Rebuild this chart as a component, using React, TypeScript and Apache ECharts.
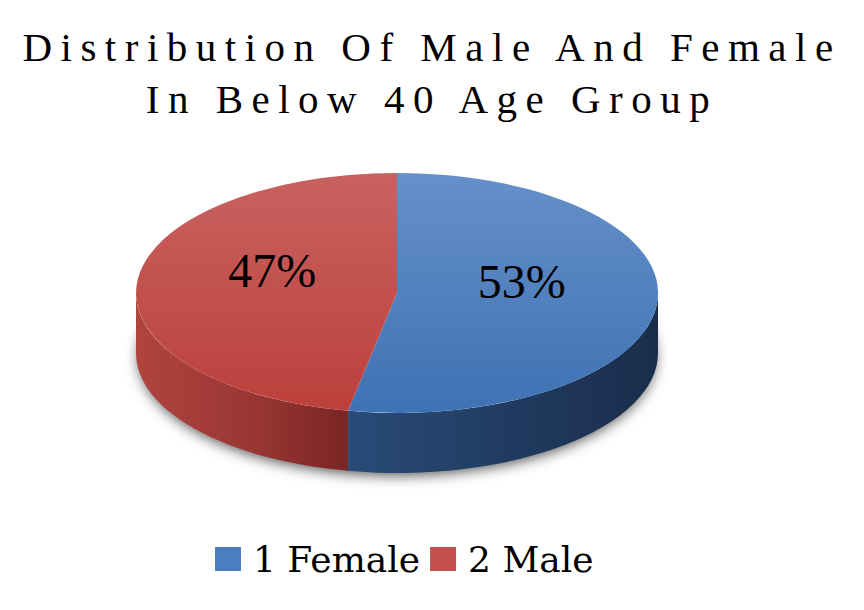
import React, { useEffect, useRef } from 'react';
import * as echarts from 'echarts';

const categories = ['1 Female', '2 Male'];
const shares = [53, 47];
const titleLines = ['Distribution Of Male And Female', 'In Below 40 Age Group'];

const TOP_COLORS = [
  ['#6690c9', '#3e72b4'],
  ['#c8625f', '#bc403c'],
];
const WALL_COLORS = [
  ['#284b78', '#1a2d4b'],
  ['#b0443f', '#7a2624'],
];
const LEGEND_COLORS = ['#4a7ebf', '#c4504c'];

const CX = 397;
const CY = 293;
const RX = 261;
const RY = 120;
const DEPTH = 60;

function pt(t: number, dy = 0): string {
  const x = CX + RX * Math.sin(t);
  const y = CY - RY * Math.cos(t) + dy;
  return `${x.toFixed(2)} ${y.toFixed(2)}`;
}

function renderItem(params: any, api: any) {
  const i = params.seriesIndex;
  const total = shares.reduce((a, b) => a + b, 0);
  const before = shares.slice(0, i).reduce((a, b) => a + b, 0);
  const v = api.value(0);
  const a0 = (before / total) * 2 * Math.PI;
  const a1 = ((before + v) / total) * 2 * Math.PI;
  const children: any[] = [];

  if (i === 0) {
    children.push({
      type: 'ellipse',
      shape: { cx: CX, cy: CY + DEPTH - 2, rx: RX - 3, ry: RY - 2 },
      style: {
        fill: '#ffffff',
        shadowBlur: 14,
        shadowColor: 'rgba(0,0,0,0.7)',
        shadowOffsetY: 6,
      },
    });
  }

  const w0 = Math.max(a0, Math.PI / 2);
  const w1 = Math.min(a1, (3 * Math.PI) / 2);
  if (w1 > w0) {
    const d = `M ${pt(w0)} A ${RX} ${RY} 0 0 1 ${pt(w1)} L ${pt(w1, DEPTH)} A ${RX} ${RY} 0 0 0 ${pt(w0, DEPTH)} Z`;
    const stops =
      i === 0
        ? [
            { offset: 0, color: WALL_COLORS[0][0] },
            { offset: 1, color: WALL_COLORS[0][1] },
          ]
        : [
            { offset: 0, color: WALL_COLORS[1][0] },
            { offset: 0.5, color: '#9c3834' },
            { offset: 1, color: WALL_COLORS[1][1] },
          ];
    children.push({
      type: 'path',
      shape: { pathData: d },
      style: {
        fill: new echarts.graphic.LinearGradient(0, 0, 1, 0, stops),
      },
    });
  }

  const large = a1 - a0 > Math.PI ? 1 : 0;
  const top = `M ${CX} ${CY} L ${pt(a0)} A ${RX} ${RY} 0 ${large} 1 ${pt(a1)} Z`;
  children.push({
    type: 'path',
    shape: { pathData: top },
    style: {
      fill: new echarts.graphic.LinearGradient(0, 0, 0, 1, [
        { offset: 0, color: TOP_COLORS[i][0] },
        { offset: 1, color: TOP_COLORS[i][1] },
      ]),
    },
  });

  const mid = (a0 + a1) / 2;
  const f = 0.48;
  children.push({
    type: 'text',
    style: {
      text: `${Math.round((v / total) * 100)}%`,
      x: CX + RX * f * Math.sin(mid),
      y: CY - RY * f * Math.cos(mid) - 17,
      font: '48px "Liberation Serif"',
      fill: '#000000',
      align: 'center',
      verticalAlign: 'middle',
    },
  });

  return { type: 'group', children };
}

export default function App() {
  const ref = useRef<HTMLDivElement>(null);
  useEffect(() => {
    if (!ref.current) return;
    const chart = echarts.init(ref.current, undefined, { renderer: 'svg' });
    chart.setOption({
      animation: false,
      backgroundColor: '#ffffff',
      graphic: [
        {
          type: 'text',
          x: 432,
          y: 47,
          style: {
            text: titleLines[0],
            font: '41px "Liberation Serif"',
            fill: '#000000',
            align: 'center',
            verticalAlign: 'middle',
          },
        },
        {
          type: 'text',
          x: 432,
          y: 99,
          style: {
            text: titleLines[1],
            font: '41px "Liberation Serif"',
            fill: '#000000',
            align: 'center',
            verticalAlign: 'middle',
          },
        },
      ],
      legend: {
        data: categories,
        left: 210,
        top: 536,
        icon: 'rect',
        itemWidth: 26,
        itemHeight: 24,
        itemGap: 10,
        textStyle: {
          fontFamily: 'DejaVu Serif',
          fontSize: 36,
          color: '#000000',
          padding: [0, 0, 0, 7],
        },
      },
      series: categories.map((name, i) => ({
        type: 'custom',
        name,
        coordinateSystem: 'none',
        itemStyle: { color: LEGEND_COLORS[i] },
        renderItem,
        data: [[shares[i]]],
      })),
    });
    const texts = ref.current.querySelectorAll('text');
    texts.forEach((t) => {
      if (titleLines.includes((t.textContent || '').trim())) {
        t.setAttribute('letter-spacing', '8.5px');
      }
    });
    return () => chart.dispose();
  }, []);
  return (
    <div
      ref={ref}
      style={{ position: 'fixed', left: 0, top: 0, width: 864, height: 610, background: '#fff' }}
    />
  );
}
